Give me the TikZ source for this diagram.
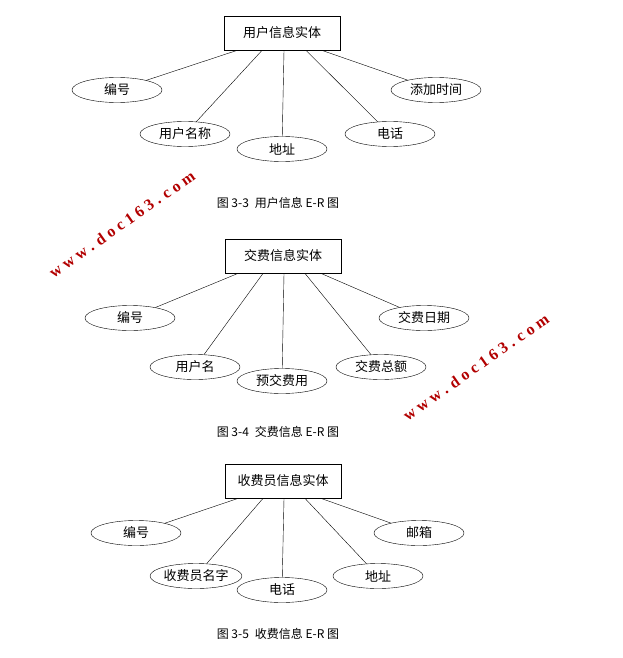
\documentclass[tikz,border=0pt]{standalone}
\usepackage{fontspec}
\usetikzlibrary{shapes.geometric}
\setmainfont{Liberation Serif}
\newfontfamily\cjk{Noto Sans CJK SC}
\begin{document}
\begin{tikzpicture}[x=1pt,y=-1pt,
  ent/.style={draw,thick,minimum width=116pt,minimum height=34pt,inner sep=0pt,font=\cjk\fontsize{13}{13}\selectfont},
  att/.style={draw,ellipse,minimum width=90pt,minimum height=25pt,inner sep=0pt,font=\cjk\fontsize{13}{13}\selectfont},
  figcap/.style={font=\cjk\fontsize{12}{12}\selectfont},
  wm/.style={text=red!70!black,font=\bfseries\fontsize{16}{16}\selectfont,rotate=35}]
\useasboundingbox (0,0) rectangle (623,658);
% diagram 1
\node[ent] (e1) at (282,33) {用户信息实体};
\node[att] (a11) at (117,90) {编号};
\node[att] (a12) at (185,134) {用户名称};
\node[att] (a13) at (282,149) {地址};
\node[att] (a14) at (390,134) {电话};
\node[att] (a15) at (436,90) {添加时间};
\draw ([xshift=-45pt]e1.south) -- (a11);
\draw ([xshift=-20pt]e1.south) -- (a12);
\draw ([xshift=2pt]e1.south) -- (a13);
\draw ([xshift=24pt]e1.south) -- (a14);
\draw ([xshift=40pt]e1.south) -- (a15);
\node[figcap] (c1) at (278,203) {图 3-3\enspace 用户信息 E-R 图};
% diagram 2
\node[ent] (e2) at (283,256) {交费信息实体};
\node[att] (a21) at (130,318) {编号};
\node[att] (a22) at (195,367) {用户名};
\node[att] (a23) at (282,381) {预交费用};
\node[att] (a24) at (381,367) {交费总额};
\node[att] (a25) at (424,318) {交费日期};
\draw ([xshift=-45pt]e2.south) -- (a21);
\draw ([xshift=-20pt]e2.south) -- (a22);
\draw ([xshift=1pt]e2.south) -- (a23);
\draw ([xshift=22pt]e2.south) -- (a24);
\draw ([xshift=38pt]e2.south) -- (a25);
\node[figcap] (c2) at (278,432) {图 3-4\enspace 交费信息 E-R 图};
% diagram 3
\node[ent] (e3) at (283,481) {收费员信息实体};
\node[att] (a31) at (136,533) {编号};
\node[att] (a32) at (196,576) {收费员名字};
\node[att] (a33) at (282,590) {电话};
\node[att] (a34) at (378,576) {地址};
\node[att] (a35) at (419,533) {邮箱};
\draw ([xshift=-45pt]e3.south) -- (a31);
\draw ([xshift=-20pt]e3.south) -- (a32);
\draw ([xshift=1pt]e3.south) -- (a33);
\draw ([xshift=22pt]e3.south) -- (a34);
\draw ([xshift=38pt]e3.south) -- (a35);
\node[figcap] (c3) at (278,634) {图 3-5\enspace 收费信息 E-R 图};
% watermarks
\node[wm] (w1) at (122,224) {w w w . d o c 1 6 3 . c o m};
\node[wm] (w2) at (476,367) {w w w . d o c 1 6 3 . c o m};
\end{tikzpicture}
\end{document}
